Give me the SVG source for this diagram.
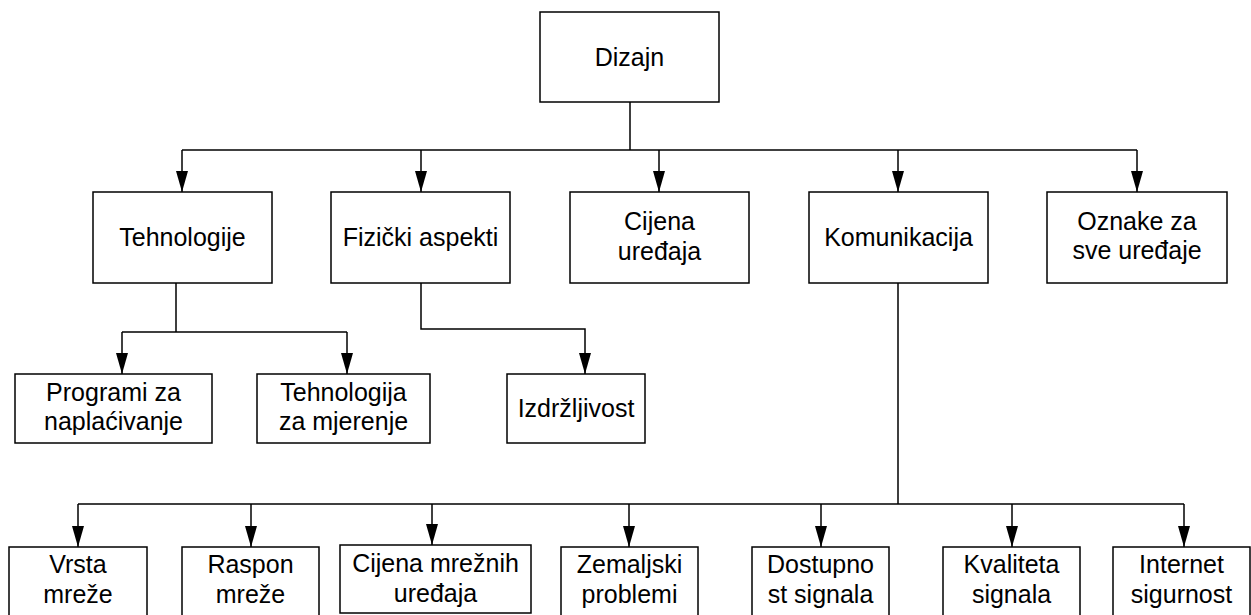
<svg xmlns="http://www.w3.org/2000/svg" width="1251" height="615" viewBox="0 0 1251 615">
<style>
.box{fill:#fff;stroke:#000;stroke-width:1.5}
.t{font-family:"Liberation Sans",Arial,sans-serif;font-size:25px;fill:#000;text-anchor:middle}
.c{fill:none;stroke:#000;stroke-width:1.5}
</style>
<defs>
<marker id="ah" markerUnits="userSpaceOnUse" markerWidth="21" markerHeight="13" refX="21" refY="6.5" orient="auto">
<path d="M0,0.5 L21,6.5 L0,12.5 z" fill="#000"/>
</marker>
</defs>
<rect width="1251" height="615" fill="#fff"/>
<g id="connectors">
<path class="c" d="M630,102 V150"/>
<path class="c" d="M182,150 H1137"/>
<path class="c" d="M182,150 V192" marker-end="url(#ah)"/>
<path class="c" d="M421,150 V192" marker-end="url(#ah)"/>
<path class="c" d="M659,150 V192" marker-end="url(#ah)"/>
<path class="c" d="M898,150 V192" marker-end="url(#ah)"/>
<path class="c" d="M1137,150 V192" marker-end="url(#ah)"/>
<path class="c" d="M176,283 V332 M122,332 H347"/>
<path class="c" d="M122,332 V374" marker-end="url(#ah)"/>
<path class="c" d="M347,332 V374" marker-end="url(#ah)"/>
<path class="c" d="M421,283 V329 H585 V374" marker-end="url(#ah)"/>
<path class="c" d="M898,283 V504 M78,504 H1184"/>
<path class="c" d="M78,504 V547" marker-end="url(#ah)"/>
<path class="c" d="M251,504 V547" marker-end="url(#ah)"/>
<path class="c" d="M432,504 V545" marker-end="url(#ah)"/>
<path class="c" d="M629,504 V547" marker-end="url(#ah)"/>
<path class="c" d="M821,504 V547" marker-end="url(#ah)"/>
<path class="c" d="M1012,504 V547" marker-end="url(#ah)"/>
<path class="c" d="M1184,504 V547" marker-end="url(#ah)"/>
</g>
<g id="dizajn"><rect class="box" x="540" y="12" width="179" height="90"/><text class="t" x="629.5" y="66">Dizajn</text></g>
<g id="tehnologije"><rect class="box" x="93" y="192" width="179" height="91"/><text class="t" x="182.5" y="246">Tehnologije</text></g>
<g id="fizicki"><rect class="box" x="331" y="192" width="179" height="91"/><text class="t" x="420.5" y="246">Fizički aspekti</text></g>
<g id="cijena"><rect class="box" x="570" y="192" width="179" height="91"/><text class="t" x="659.5" y="230">Cijena</text><text class="t" x="659.5" y="260">uređaja</text></g>
<g id="komunikacija"><rect class="box" x="809" y="192" width="179" height="91"/><text class="t" x="898.5" y="246">Komunikacija</text></g>
<g id="oznake"><rect class="box" x="1047" y="192" width="180" height="91"/><text class="t" x="1137" y="230">Oznake za</text><text class="t" x="1137" y="259">sve uređaje</text></g>
<g id="programi"><rect class="box" x="15" y="374" width="197" height="69"/><text class="t" x="113.5" y="401">Programi za</text><text class="t" x="113.5" y="430">naplaćivanje</text></g>
<g id="tehnologija"><rect class="box" x="257" y="374" width="173" height="69"/><text class="t" x="343.5" y="401">Tehnologija</text><text class="t" x="343.5" y="430">za mjerenje</text></g>
<g id="izdrzljivost"><rect class="box" x="507" y="374" width="138" height="69"/><text class="t" x="576" y="417">Izdržljivost</text></g>
<g id="vrsta"><rect class="box" x="9" y="547" width="138" height="91"/><text class="t" x="78" y="573">Vrsta</text><text class="t" x="78" y="603">mreže</text></g>
<g id="raspon"><rect class="box" x="182" y="547" width="137" height="91"/><text class="t" x="250.5" y="573">Raspon</text><text class="t" x="250.5" y="603">mreže</text></g>
<g id="cijenamrezn"><rect class="box" x="340" y="545" width="191" height="68"/><text class="t" x="435.5" y="572">Cijena mrežnih</text><text class="t" x="435.5" y="602">uređaja</text></g>
<g id="zemaljski"><rect class="box" x="561" y="547" width="137" height="91"/><text class="t" x="629.5" y="573">Zemaljski</text><text class="t" x="629.5" y="603">problemi</text></g>
<g id="dostupnost"><rect class="box" x="752" y="547" width="137" height="91"/><text class="t" x="820.5" y="573">Dostupno</text><text class="t" x="820.5" y="603">st signala</text></g>
<g id="kvaliteta"><rect class="box" x="943" y="547" width="137" height="91"/><text class="t" x="1011.5" y="573">Kvaliteta</text><text class="t" x="1011.5" y="603">signala</text></g>
<g id="internet"><rect class="box" x="1113" y="547" width="137" height="91"/><text class="t" x="1181.5" y="573">Internet</text><text class="t" x="1181.5" y="603">sigurnost</text></g>
</svg>
